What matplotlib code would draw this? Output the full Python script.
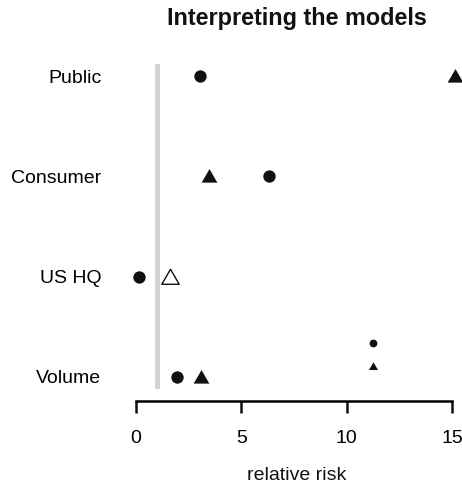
import numpy as np
import matplotlib
matplotlib.use("Agg")
import matplotlib.pyplot as plt
from matplotlib.path import Path

plt.rcParams['font.family'] = ['Liberation Sans', 'DejaVu Sans']

# rows, bottom to top
labels = ['Volume', 'US HQ', 'Consumer', 'Public']
rows = [1, 2, 3, 4]

# model 1 (circles) and model 2 (triangles), relative risk
rr_circle = [1.95, 0.14, 6.33, 3.04]
rr_triangle = [3.08, 1.61, 3.46, 15.13]
tri_signif = [True, False, True, True]

# small key markers
key_x = [11.24, 11.24]
key_y = [1.34, 1.11]

ref_line = 1.0
xticks = [0, 5, 10, 15]

tri = Path([(-1, -0.78), (1, -0.78), (0, 0.95), (-1, -0.78)],
           [Path.MOVETO, Path.LINETO, Path.LINETO, Path.CLOSEPOLY])

fig = plt.figure(figsize=(4.62, 4.83), dpi=100)
ax = fig.add_axes([0.2734, 0.1946, 0.737, 0.6729])
ax.set_xlim(-0.46, 15.7)
ax.set_ylim(0.88, 4.12)

ax.axvline(ref_line, color='#d3d3d3', lw=3.6, zorder=1)

ax.plot(rr_circle, rows, 'o', color='#111111', ms=8.9, mec='none', clip_on=False, zorder=3)
for x, y, s in zip(rr_triangle, rows, tri_signif):
    if s:
        ax.plot(x, y, marker=tri, color='#111111', ms=11.3, mec='none', ls='none',
                clip_on=False, zorder=3)
    else:
        ax.plot(x, y, marker=tri, mfc='white', mec='#111111', mew=1.0, ms=12.5, ls='none',
                clip_on=False, zorder=3)

ax.plot(key_x[0], key_y[0], 'o', color='#111111', ms=5.6, mec='none', zorder=3)
ax.plot(key_x[1], key_y[1], marker=tri, color='#111111', ms=6.5, mec='none', ls='none', zorder=3)

for s in ['top', 'right', 'left']:
    ax.spines[s].set_visible(False)
ax.spines['bottom'].set_position(('outward', 8.6))
ax.spines['bottom'].set_bounds(0, 15)
ax.spines['bottom'].set_linewidth(1.8)
ax.set_xticks(xticks)
ax.set_xticklabels([str(t) for t in xticks])
ax.tick_params(axis='x', length=8.3, width=1.8, pad=12.5, labelsize=14, color='#111111')
ax.set_yticks(rows)
ax.set_yticklabels(labels)
ax.tick_params(axis='y', length=0, pad=18, labelsize=14)

fig.text(0.6418, 1 - 25 / 483, 'Interpreting the models', ha='center', va='baseline',
         fontsize=16.8, fontweight='bold', color='#111111')
fig.text(0.6418, 1 - 480 / 483, 'relative risk', ha='center', va='baseline',
         fontsize=14, color='#111111')

fig.savefig('out.png', dpi=100)
